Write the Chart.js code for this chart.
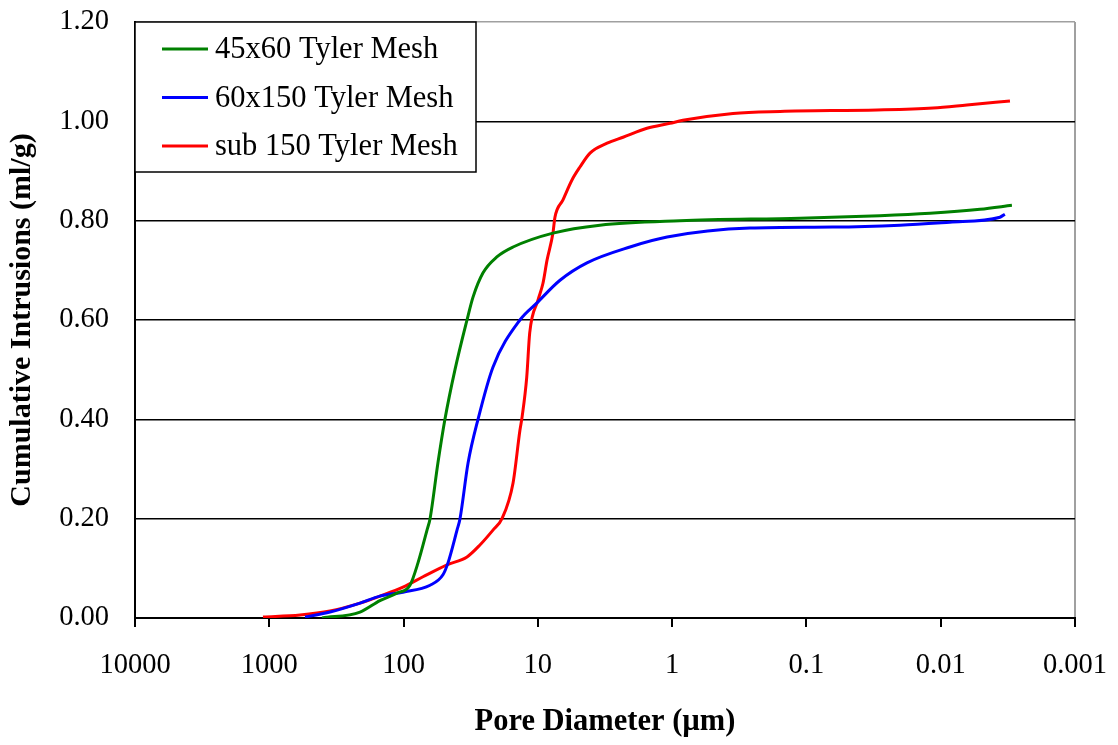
<!DOCTYPE html>
<html>
<head>
<meta charset="utf-8">
<script src="https://cdn.jsdelivr.net/npm/chart.js@4.4.0/dist/chart.umd.min.js"></script>
<style>
  html, body { margin: 0; padding: 0; background: #fff; }
  #wrap { width: 1118px; height: 745px; }
</style>
</head>
<body>
<div id="wrap"><canvas id="chart" width="1118" height="745"></canvas></div>
<script>
// Mercury porosimetry: cumulative intrusion vs pore diameter (um)
const seriesLabels = ['45x60 Tyler Mesh', '60x150 Tyler Mesh', 'sub 150 Tyler Mesh'];
const seriesColors = ['#008000', '#0000ff', '#ff0000'];

const diam45x60 = [405, 211, 150, 112, 89.6, 78.1, 66.9, 63.5, 55.5, 49.2, 41.4, 33.7, 30.4, 25.6, 20.2, 15.3, 7.72, 3.45, 0.875, 0.112, 0.0284, 0.0120, 0.0051, 0.00295];
const vol45x60  = [0.000, 0.012, 0.035, 0.050, 0.066, 0.111, 0.177, 0.200, 0.312, 0.400, 0.500, 0.600, 0.646, 0.695, 0.727, 0.747, 0.775, 0.791, 0.800, 0.805, 0.810, 0.815, 0.823, 0.831];

const diam60x150 = [542, 353, 211, 150, 101, 63.5, 50.9, 46.7, 40.0, 38.0, 33.1, 27.9, 21.6, 13.6, 10.2, 6.84, 4.31, 2.06, 1.09, 0.264, 0.0635, 0.0201, 0.00855, 0.00362, 0.00333];
const vol60x150  = [0.002, 0.012, 0.030, 0.044, 0.052, 0.066, 0.087, 0.111, 0.177, 0.200, 0.312, 0.400, 0.505, 0.600, 0.634, 0.680, 0.715, 0.747, 0.767, 0.785, 0.787, 0.791, 0.797, 0.807, 0.813];

const diamSub150 = [1114, 590, 353, 211, 150, 101, 71.7, 47.5, 33.7, 27.0, 21.6, 18.5, 15.3, 13.6, 13.1, 12.1, 11.5, 9.98, 9.16, 8.55, 7.72, 7.46, 6.50, 5.57, 4.86, 4.09, 3.05, 2.32, 1.54, 1.04, 0.832, 0.352, 0.157, 0.0298, 0.0114, 0.00638, 0.00305];
const volSub150  = [0.002, 0.006, 0.014, 0.030, 0.044, 0.062, 0.083, 0.107, 0.123, 0.147, 0.177, 0.200, 0.272, 0.378, 0.405, 0.485, 0.574, 0.640, 0.674, 0.720, 0.775, 0.807, 0.842, 0.882, 0.908, 0.936, 0.956, 0.968, 0.986, 0.996, 1.002, 1.016, 1.020, 1.023, 1.027, 1.033, 1.041];

const xTicks = [10000, 1000, 100, 10, 1, 0.1, 0.01, 0.001];
const yTicks = [0, 0.2, 0.4, 0.6, 0.8, 1.0, 1.2];

const serif = '"Liberation Serif", "Times New Roman", serif';

function toPoints(xs, ys) {
    return xs.map((x, i) => ({ x: x, y: ys[i] }));
}

// Boxed legend drawn inside the plot area, top-left corner
const boxLegend = {
    id: 'boxLegend',
    afterDatasetsDraw(chart) {
        const ctx = chart.ctx;
        const area = chart.chartArea;
        const x0 = area.left, y0 = area.top;
        const w = 341, h = 150;
        ctx.save();
        ctx.fillStyle = '#fff';
        ctx.fillRect(x0, y0, w, h);
        ctx.strokeStyle = '#000';
        ctx.lineWidth = 1.5;
        ctx.strokeRect(x0, y0, w, h);
        ctx.font = '30.5px ' + serif;
        ctx.textBaseline = 'middle';
        ctx.textAlign = 'left';
        chart.data.datasets.forEach((ds, i) => {
            const rowY = y0 + 27 + i * 48.5;
            ctx.strokeStyle = ds.borderColor;
            ctx.lineWidth = 3;
            ctx.beginPath();
            ctx.moveTo(x0 + 27, rowY);
            ctx.lineTo(x0 + 73, rowY);
            ctx.stroke();
            ctx.fillStyle = '#000';
            ctx.fillText(ds.label, x0 + 80, rowY + 1);
        });
        ctx.restore();
    }
};

const datasets = [
    toPoints(diam45x60, vol45x60),
    toPoints(diam60x150, vol60x150),
    toPoints(diamSub150, volSub150)
].map((pts, i) => ({
    label: seriesLabels[i],
    data: pts,
    borderColor: seriesColors[i],
    backgroundColor: seriesColors[i],
    borderWidth: 3,
    pointRadius: 0,
    showLine: true,
    fill: false,
    cubicInterpolationMode: 'monotone'
}));

new Chart(document.getElementById('chart'), {
    type: 'scatter',
    data: { datasets: datasets },
    plugins: [boxLegend],
    options: {
        responsive: false,
        animation: false,
        layout: { padding: { top: 22, right: 43, left: 0, bottom: 0 } },
        plugins: {
            legend: { display: false },
            tooltip: { enabled: false }
        },
        scales: {
            x: {
                type: 'logarithmic',
                reverse: true,
                min: 0.001,
                max: 10000,
                afterBuildTicks: (scale) => {
                    scale.ticks = xTicks.map(v => ({ value: v, major: true }));
                },
                afterFit: (scale) => {
                    scale.height = 127;
                    scale.paddingLeft = 0;
                    scale.paddingRight = 0;
                },
                ticks: {
                    autoSkip: false,
                    maxRotation: 0,
                    padding: 21,
                    color: '#000',
                    font: { family: serif, size: 28.5 },
                    callback: (v) => String(v)
                },
                grid: {
                    color: (c) => (c.tick && c.tick.value === 0.001) ? '#a0a0a0' : 'rgba(0,0,0,0)',
                    lineWidth: 2,
                    tickColor: '#000',
                    tickLength: 9,
                    drawOnChartArea: true
                },
                border: { color: '#000', width: 2 },
                title: {
                    display: true,
                    text: 'Pore Diameter (\u00b5m)',
                    color: '#000',
                    font: { family: serif, size: 30.5, weight: 'bold' },
                    padding: { top: 0, bottom: 5 }
                }
            },
            y: {
                min: 0,
                max: 1.2,
                afterBuildTicks: (scale) => {
                    scale.ticks = yTicks.map(v => ({ value: v }));
                },
                afterFit: (scale) => {
                    scale.width = 135;
                    scale.paddingTop = 0;
                    scale.paddingBottom = 0;
                },
                ticks: {
                    padding: 26,
                    color: '#000',
                    font: { family: serif, size: 28.5 },
                    callback: (v) => Number(v).toFixed(2)
                },
                grid: {
                    color: (c) => (c.tick && Math.abs(c.tick.value - 1.2) < 1e-9) ? '#a0a0a0' : '#000',
                    lineWidth: 1.5,
                    drawTicks: false
                },
                border: { color: '#000', width: 2 },
                title: {
                    display: true,
                    text: 'Cumulative Intrusions (ml/g)',
                    color: '#000',
                    font: { family: serif, size: 30, weight: 'bold' },
                    padding: { top: 4, bottom: 0 }
                }
            }
        }
    }
});
</script>
</body>
</html>
